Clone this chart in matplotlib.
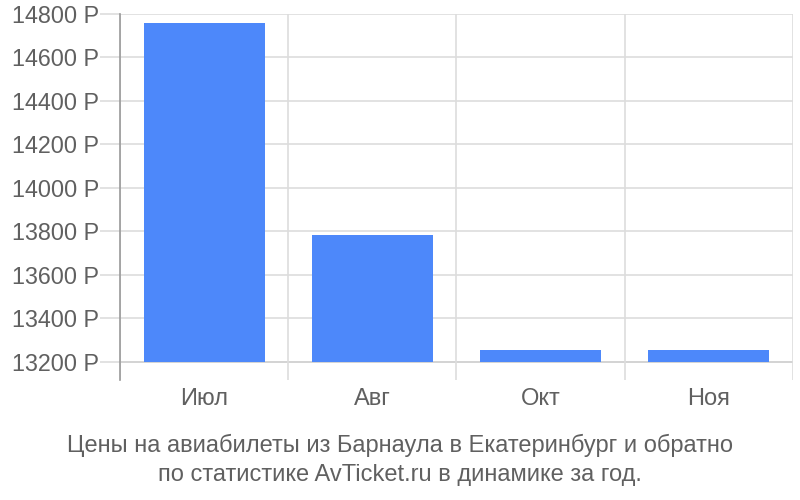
import matplotlib.pyplot as plt
from matplotlib import font_manager

months = ['Июл', 'Авг', 'Окт', 'Ноя']
prices = [14757, 13783, 13257, 13257]
y_ticks = [13200, 13400, 13600, 13800, 14000, 14200, 14400, 14600, 14800]
base = 13200

caption = ('Цены на авиабилеты из Барнаула в Екатеринбург и обратно\n'
           'по статистике AvTicket.ru в динамике за год.')

names = {f.name for f in font_manager.fontManager.ttflist}
narrow = 'Liberation Sans Narrow' if 'Liberation Sans Narrow' in names else 'Liberation Sans'
plt.rcParams['font.family'] = ['Liberation Sans', 'DejaVu Sans']

fig = plt.figure(figsize=(8, 5), dpi=100)
ax = fig.add_axes([0.15, 0.24, 0.841, 0.732])

x = list(range(len(months)))
ax.bar(x, [p - base for p in prices], bottom=base, width=0.72, color='#4d88fa', zorder=3)

ax.set_xlim(-0.5, len(months) - 0.5)
ax.set_ylim(13117, 14800)
ax.set_yticks(y_ticks)
ax.set_yticklabels([f'{t} Р' for t in y_ticks])
ax.set_xticks(x)
ax.set_xticklabels(months)

# grid
for t in y_ticks:
    ax.axhline(t, color='#cccccc' if t == base else '#dddddd', lw=1.2, zorder=1)
for v in [-0.5, 0.5, 1.5, 2.5, 3.5]:
    ax.axvline(v, color='#dddddd', lw=1.2, zorder=1)

for s in ['top', 'right', 'bottom']:
    ax.spines[s].set_visible(False)
ax.spines['left'].set_color('#999999')
ax.spines['left'].set_linewidth(1.2)

ax.tick_params(axis='y', length=14.4, color='#dddddd', width=1.2, pad=0.5,
               labelsize=16.8, labelcolor='#606060')
ax.tick_params(axis='x', length=0, pad=6, labelsize=17, labelcolor='#606060')

fig.text(0.5, 0.08, caption, ha='center', va='center', fontsize=17,
         color='#606060', family=[narrow, 'DejaVu Sans'], linespacing=1.4)

fig.savefig('out.png', dpi=100)
